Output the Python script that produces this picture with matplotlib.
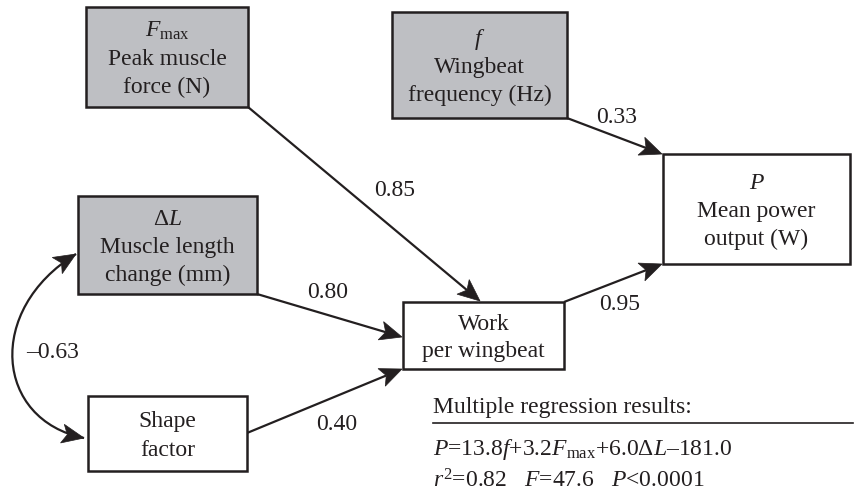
import numpy as np
import matplotlib.pyplot as plt
from matplotlib.patches import Rectangle, Polygon, PathPatch
from matplotlib.path import Path

plt.rcParams['font.family'] = 'Liberation Serif'
plt.rcParams['mathtext.fontset'] = 'custom'
plt.rcParams['mathtext.rm'] = 'Liberation Serif'
plt.rcParams['mathtext.it'] = 'Liberation Serif:italic'

INK = '#231f20'
GREY = '#bebfc3'
FS = 17

# path coefficients (Fmax, f, dL, shape, work -> P) and the dL/shape correlation
path_names = ['fmax', 'freq', 'dl', 'shape', 'work']
path_coefs = [0.85, 0.33, 0.80, 0.40, 0.95]
corr_coef = -0.63

# multiple regression P = a*f + b*Fmax + c*dL + d
reg_coefs = [13.8, 3.2, 6.0]
reg_intercept = -181.0
reg_r2 = 0.82
reg_F = 47.6
reg_p = '<0.0001'

# boxes in pixel units: x0, y0, x1, y1
boxes = {
    'fmax': (86, 7, 248, 107),
    'freq': (392, 12, 567, 118),
    'dl': (78, 196, 257, 294),
    'shape': (88, 396, 247, 471),
    'work': (403, 302, 564, 369),
    'power': (663, 154, 850, 264),
}
box_text = {
    'fmax': [r'$F_{\mathrm{max}}$', 'Peak muscle', 'force (N)'],
    'freq': [r'$f$', 'Wingbeat', 'frequency (Hz)'],
    'dl': [r'Δ$L$', 'Muscle length', 'change (mm)'],
    'shape': ['Shape', 'factor'],
    'work': ['Work', 'per wingbeat'],
    'power': [r'$P$', 'Mean power', 'output (W)'],
}
shaded = {'fmax', 'freq', 'dl'}

# arrow start / tip and label position for each path
arrow_ends = {
    'fmax': ((248, 107), (480, 301)),
    'freq': ((567, 118), (662, 154)),
    'dl': ((257, 294), (402, 337)),
    'shape': ((247, 433), (402, 369)),
    'work': ((564, 302), (662, 264)),
}
label_pos = {
    'fmax': (395, 190), 'freq': (617, 117), 'dl': (328, 293),
    'shape': (337, 425), 'work': (620, 304),
}


def head(ax, tip, direction, length=22, half_width=9.5, notch=5):
    tip = np.asarray(tip, float)
    u = np.asarray(direction, float)
    u = u / np.linalg.norm(u)
    n = np.array([-u[1], u[0]])
    base = tip - u * length
    back = tip - u * (length - notch)
    ax.add_patch(Polygon([tip, base + n * half_width, back, base - n * half_width],
                         closed=True, fc=INK, ec=INK, lw=0.5, zorder=4))
    return back


fig = plt.figure(figsize=(8.56, 5.03), dpi=100)
ax = fig.add_axes([0, 0, 1, 1])
ax.set_xlim(0, 856)
ax.set_ylim(503, 0)
ax.axis('off')

for key, (x0, y0, x1, y1) in boxes.items():
    ax.add_patch(Rectangle((x0, y0), x1 - x0, y1 - y0, fc=GREY if key in shaded else 'white',
                           ec=INK, lw=1.8, zorder=3))
    lines = box_text[key]
    cy = (y0 + y1) / 2
    for i, s in enumerate(lines):
        yc = cy + (i - (len(lines) - 1) / 2) * 28
        ax.text((x0 + x1) / 2, yc + 8, s, ha='center', va='baseline',
                fontsize=FS, color=INK, zorder=5)

for name, coef in zip(path_names, path_coefs):
    start, tip = arrow_ends[name]
    d = np.subtract(tip, start)
    back = head(ax, tip, d)
    ax.plot([start[0], back[0]], [start[1], back[1]], color=INK, lw=1.6,
            solid_capstyle='butt', zorder=2)
    lx, ly = label_pos[name]
    ax.text(lx, ly, f'{coef:.2f}', ha='center', va='center', fontsize=FS, color=INK)

# curved two-headed arrow for the correlation between dL and shape
t1, c1, c2, t2 = (76, 254), (-15, 310), (-5, 420), (84, 438)
curve = Path([t1, c1, c2, t2], [Path.MOVETO, Path.CURVE4, Path.CURVE4, Path.CURVE4])
ax.add_patch(PathPatch(curve, fc='none', ec=INK, lw=1.6, zorder=2))
head(ax, t1, np.subtract(t1, c1))
head(ax, t2, np.subtract(t2, c2))
ax.text(53, 352, f'–{abs(corr_coef):.2f}', ha='center', va='center', fontsize=FS, color=INK)

# regression summary
ax.text(433, 413, 'Multiple regression results:', ha='left', va='baseline',
        fontsize=FS, color=INK)
ax.plot([433, 853], [423, 423], color=INK, lw=1.2)
eq = (rf'$P$={reg_coefs[0]:.1f}$f$+{reg_coefs[1]:.1f}$F_{{\mathrm{{max}}}}$'
      rf'+{reg_coefs[2]:.1f}Δ$L$–{abs(reg_intercept):.1f}')
ax.text(433, 455, eq, ha='left', va='baseline', fontsize=FS, color=INK)
stats = rf'$r^2$={reg_r2:.2f}   $F$={reg_F:.1f}   $P${reg_p}'
ax.text(433, 488, stats, ha='left', va='baseline', fontsize=FS, color=INK)

fig.savefig('out.png', dpi=100)
